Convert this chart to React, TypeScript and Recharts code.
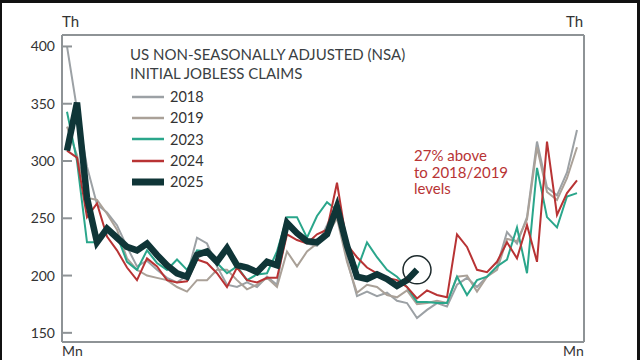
import React from 'react';
import { LineChart, Line, XAxis, YAxis, ReferenceLine, ReferenceDot } from 'recharts';

const weeks: number[] = Array.from({ length: 52 }, (_, i) => i);
const yTicks = [150, 200, 250, 300, 350, 400];

const s2018 = [400, 345, 295, 262, 255, 244, 225, 208, 213, 205, 198, 194, 200, 233, 228, 208, 192, 190, 194, 190, 199, 192, 245, 236, 228, 226, 244, 262, 214, 182, 186, 182, 185, 178, 176, 163, 170, 176, 173, 192, 198, 190, 199, 208, 238, 228, 251, 317, 277, 270, 290, 327];
const s2019 = [330, 305, 268, 266, 254, 240, 215, 205, 200, 198, 196, 190, 186, 196, 196, 205, 205, 196, 188, 192, 198, 190, 221, 208, 221, 228, 235, 250, 212, 185, 192, 190, 183, 181, 187, 175, 176, 178, 176, 199, 200, 186, 199, 205, 232, 230, 249, 312, 273, 266, 285, 312];
const s2023 = [343, 300, 229, 229, 240, 235, 212, 205, 222, 211, 205, 214, 205, 222, 221, 211, 202, 208, 196, 201, 202, 221, 251, 251, 233, 252, 264, 257, 230, 205, 229, 216, 205, 199, 190, 177, 177, 176, 176, 199, 183, 196, 199, 208, 214, 242, 202, 294, 251, 242, 269, 272];
const s2024 = [309, 303, 251, 263, 234, 222, 207, 196, 215, 208, 196, 194, 195, 214, 211, 202, 190, 207, 196, 194, 198, 198, 236, 231, 228, 236, 240, 281, 227, 216, 207, 202, 198, 196, 190, 180, 187, 183, 181, 236, 225, 205, 203, 212, 229, 215, 244, 212, 317, 253, 272, 283];
const s2025 = [309, 351, 268, 229, 241, 233, 225, 222, 228, 218, 209, 202, 199, 218, 221, 212, 224, 209, 207, 203, 212, 209, 246, 237, 230, 229, 236, 260, 226, 199, 197, 201, 197, 191, 196, 205];

const seriesNames = ['2018', '2019', '2023', '2024', '2025'];
const seriesColors = ['#9ca1a5', '#aaa198', '#2aa68b', '#b83334', '#0f3537'];
const seriesWidths = [2, 2, 2, 2, 6.5];
const seriesValues = [s2018, s2019, s2023, s2024, s2025];

const titleLines = ['US NON-SEASONALLY ADJUSTED (NSA)', 'INITIAL JOBLESS CLAIMS'];
const noteLines = ['27% above', 'to 2018/2019', 'levels'];

const data = weeks.map((w) => {
  const row: Record<string, number | undefined> = { week: w };
  seriesNames.forEach((n, k) => {
    row['y' + n] = seriesValues[k][w];
  });
  return row;
});

const FONT = 'Lato, "Open Sans", sans-serif';
const AXIS = '#8e9396';

const LeftTick = (props: any) => {
  const { x, y, payload } = props;
  return (
    <g>
      <line x1={x + 7} x2={x + 17} y1={y} y2={y} stroke={AXIS} strokeWidth={2} />
      <text x={x} y={y} dy={5} textAnchor="end" fontSize={14} fill="#333" fontFamily={FONT}>{payload.value}</text>
    </g>
  );
};

const RightTick = (props: any) => {
  const { x, y, payload } = props;
  return (
    <g>
      <line x1={x - 20} x2={x - 8} y1={y} y2={y} stroke={AXIS} strokeWidth={2} />
      <text x={x} y={y} dy={5} textAnchor="start" fontSize={14} fill="#333" fontFamily={FONT}>{payload.value}</text>
    </g>
  );
};

const abs = (left: number, top: number, extra: React.CSSProperties = {}): React.CSSProperties => ({
  position: 'absolute', left, top, fontFamily: FONT, whiteSpace: 'nowrap', ...extra,
});

export default function App() {
  return (
    <div style={{ position: 'absolute', left: 0, top: 0, width: 640, height: 360, background: '#fff', overflow: 'hidden' }}>
      <LineChart width={640} height={360} data={data} margin={{ top: 35, right: 0, bottom: 0, left: 0 }}>
        <XAxis dataKey="week" type="number" domain={[-0.5, 51.7]} height={18} tick={false} tickLine={false} axisLine={{ stroke: AXIS, strokeWidth: 2 }} />
        <YAxis yAxisId="l" orientation="left" width={62} domain={[142, 410]} ticks={yTicks} tickSize={0} tickMargin={7} tickLine={false} axisLine={{ stroke: AXIS, strokeWidth: 2 }} tick={<LeftTick />} />
        <YAxis yAxisId="r" orientation="right" width={56} domain={[142, 410]} ticks={yTicks} tickSize={0} tickMargin={8} tickLine={false} axisLine={{ stroke: AXIS, strokeWidth: 2 }} tick={<RightTick />} />
        <ReferenceLine yAxisId="l" y={410} stroke={AXIS} strokeWidth={2} />
        {seriesNames.map((n, k) => (
          <Line key={n} yAxisId="l" dataKey={'y' + n} stroke={seriesColors[k]} strokeWidth={seriesWidths[k]} dot={false} isAnimationActive={false} strokeLinejoin="miter" />
        ))}
        <ReferenceDot yAxisId="l" x={35} y={s2025[35]} r={14} fill="none" stroke="#1d2a2c" strokeWidth={1.5} />
      </LineChart>
      <div style={abs(132, 86, { fontSize: 14.5, color: '#333' })}>
        {seriesNames.map((n, k) => (
          <div key={n} style={{ display: 'flex', alignItems: 'center', height: 21.3 }}>
            <svg width={32} height={10} style={{ marginRight: 6 }}>
              <line x1={0} x2={32} y1={5} y2={5} stroke={seriesColors[k]} strokeWidth={k === 4 ? 7 : 2.5} />
            </svg>
            <span>{n}</span>
          </div>
        ))}
      </div>
      <div style={abs(62, 12, { fontSize: 15, color: '#333' })}>Th</div>
      <div style={abs(566, 12, { fontSize: 15, color: '#333' })}>Th</div>
      <div style={abs(62, 343, { fontSize: 14, color: '#333', lineHeight: '16px' })}>Mn</div>
      <div style={abs(563, 343, { fontSize: 14, color: '#333', lineHeight: '16px' })}>Mn</div>
      <div style={abs(130, 45, { fontSize: 15, color: '#3a3f43', lineHeight: '19px' })}>
        {titleLines.map((t) => <div key={t}>{t}</div>)}
      </div>
      <div style={abs(414, 147, { fontSize: 15, color: '#b83334', lineHeight: '16.5px' })}>
        {noteLines.map((t) => <div key={t}>{t}</div>)}
      </div>
      <div style={{ position: 'absolute', left: 0, top: 0, width: 640, height: 3, background: '#111' }} />
      <div style={{ position: 'absolute', left: 637, top: 0, width: 3, height: 360, background: '#111' }} />
      <div style={{ position: 'absolute', left: 0, top: 0, width: 2, height: 360, background: '#111' }} />
    </div>
  );
}
